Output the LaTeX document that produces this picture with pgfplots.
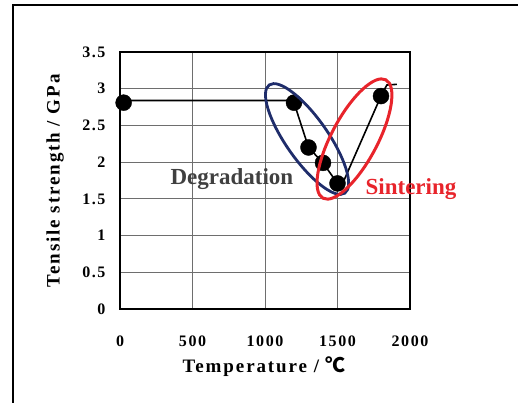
\documentclass[border=0pt]{standalone}
\usepackage{pgfplots}
\pgfplotsset{compat=1.18}
\usepackage{fontspec}
\setmainfont{Liberation Serif}
\newfontfamily\cjk{Noto Sans CJK SC}
\newfontfamily\spaced{Liberation Serif}[LetterSpace=10]
\newfontfamily\spacedlab{Liberation Serif}[LetterSpace=10]
\definecolor{navy}{HTML}{1F2D6B}
\definecolor{redl}{HTML}{E8242B}
\definecolor{dgray}{HTML}{404040}
\definecolor{gridc}{HTML}{6E6E6E}
\begin{document}
\begin{tikzpicture}
\useasboundingbox (0,0) rectangle (518bp,403bp);
\draw[line width=2bp] (13bp,0) -- (13bp,398bp) -- (519bp,398bp);
\begin{axis}[
  at={(120bp,94bp)}, anchor=south west,
  scale only axis, width=290bp, height=257bp,
  xmin=0, xmax=2000, ymin=0, ymax=3.5,
  xtick={0,500,1000,1500,2000},
  ytick={0,0.5,1,1.5,2,2.5,3,3.5},
  yticklabels={0,0.5,1,1.5,2,2.5,3,3.5},
  xticklabels={0,500,1000,1500,2000},
  major tick length=0pt,
  grid=major,
  major grid style={gridc, line width=0.9bp},
  axis line style={black, line width=1.5bp},
  clip=false,
  /pgf/number format/assume math mode=true,
  ticklabel style={font=\spaced\bfseries\fontsize{16bp}{18bp}\selectfont},
  yticklabel style={xshift=-11bp},
  xticklabel style={yshift=-23bp},
  xlabel={Temperature / {\cjk\fontsize{20bp}{22bp}\selectfont ℃}},
  ylabel={Tensile strength / GPa},
  label style={font=\spacedlab\bfseries\fontsize{19bp}{21bp}\selectfont},
  xlabel style={at={(axis description cs:0.497,-0.226)}, anchor=center},
  ylabel style={at={(axis description cs:-0.224,0.498)}, anchor=center},
]
\addplot[black, line width=1.6bp] coordinates {
  (25,2.84) (1100,2.84) (1150,2.84) (1200,2.81) (1300,2.2) (1400,1.99)
  (1500,1.71) (1540,1.73) (1800,2.9) (1840,3.05) (1910,3.06)
};
\addplot[only marks, mark=*, mark size=8bp, black] coordinates {
  (25,2.81) (1200,2.81) (1300,2.2) (1400,1.99) (1500,1.71) (1800,2.9)
};
\coordinate (B) at (axis cs:1290,2.315);
\coordinate (R) at (axis cs:1617,2.315);
\node[font=\bfseries\fontsize{23bp}{25bp}\selectfont, text=dgray] at (axis cs:772,1.77) {Degradation};
\node[font=\bfseries\fontsize{23bp}{25bp}\selectfont, text=redl] at (axis cs:2007,1.634) {Sintering};
\end{axis}
\begin{scope}[shift={(B)}, rotate=-55]
\draw[navy, line width=2.8bp] (0,0) ellipse (66bp and 21bp);
\end{scope}
\begin{scope}[shift={(R)}, rotate=62]
\draw[redl, line width=3bp] (0,0) ellipse (67bp and 23bp);
\end{scope}
\end{tikzpicture}
\end{document}
